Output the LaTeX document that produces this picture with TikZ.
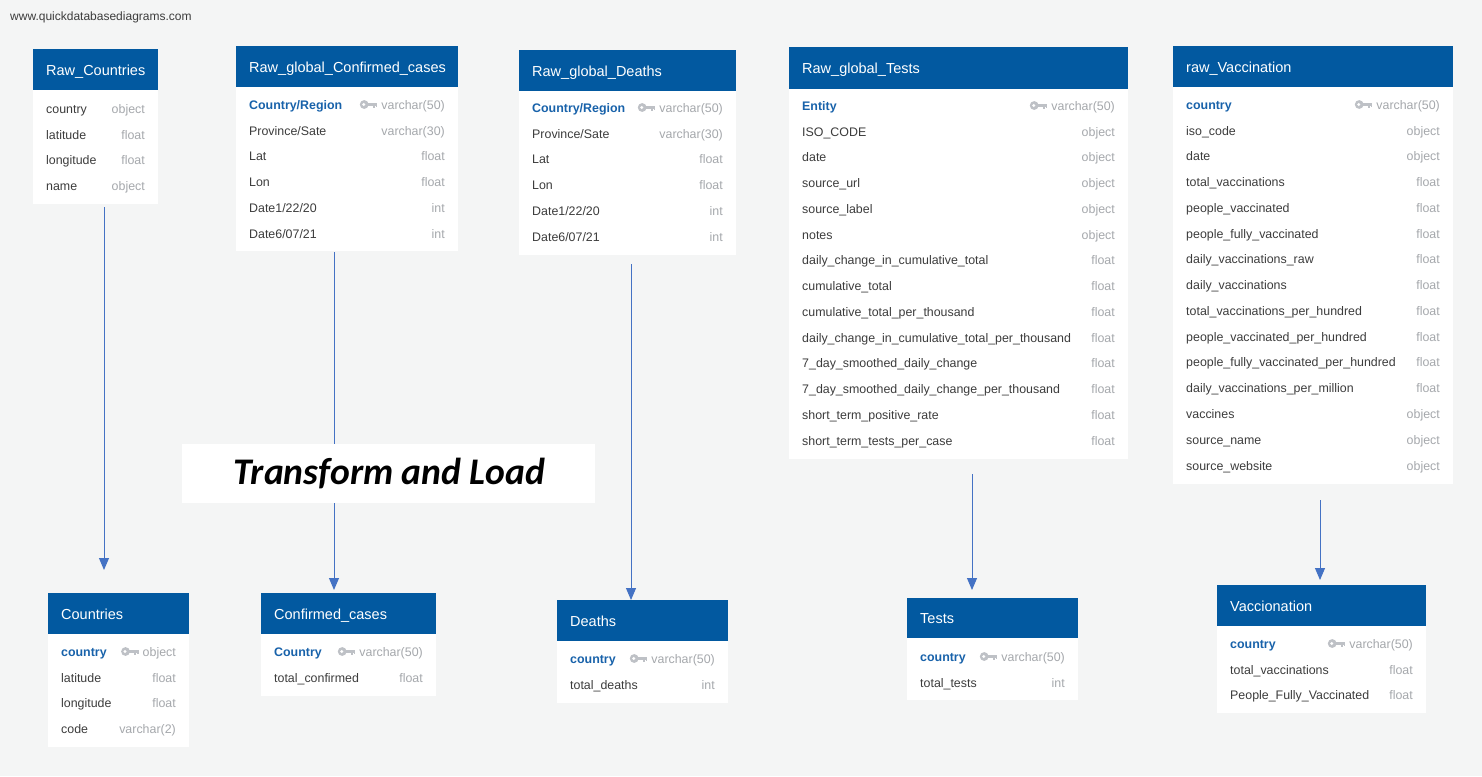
\documentclass[tikz,border=0pt]{standalone}
\usepackage{fontspec}
\setmainfont{Liberation Sans}
\newfontfamily\tlfont{Carlito}
\usetikzlibrary{arrows.meta}
\definecolor{bg}{RGB}{244,245,245}
\definecolor{hdr}{RGB}{2,89,160}
\definecolor{fname}{RGB}{60,60,60}
\definecolor{ftype}{RGB}{165,168,172}
\definecolor{kname}{RGB}{24,98,170}
\definecolor{keyc}{RGB}{190,193,198}
\definecolor{arr}{RGB}{68,114,196}
\newcounter{rn}
\tikzset{
  fld/.style={anchor=west, inner sep=0pt, text=fname, font=\fontsize{12.4}{14}\selectfont, text height=12pt, text depth=1.5pt},
  kfld/.style={fld, text=kname, font=\fontsize{12.4}{14}\selectfont\bfseries},
  typ/.style={anchor=east, inner sep=0pt, text=ftype, font=\fontsize{12.4}{14}\selectfont, text height=12pt, text depth=1.5pt},
  hdrtxt/.style={anchor=west, inner sep=0pt, text=white, font=\fontsize{14.5}{16}\selectfont, text height=13pt, text depth=1.5pt},
  flow/.style={draw=arr, line width=1pt, -{Triangle[length=12pt,width=10pt]}},
  keyicon/.pic={
    \fill[keyc] (0,0) circle[radius=4.4];
    \fill[white] (-0.5,0) circle[radius=1.6];
    \fill[keyc] (3,-1.6) rectangle (13,1.2);
    \fill[keyc] (8.6,1.2) rectangle (10.4,3.6);
    \fill[keyc] (11.3,1.2) rectangle (13,2.8);
  }
}
\newcommand\tbl[8]{%
  \fill[hdr] (#2,#4) rectangle (#3,#5);
  \fill[white] (#2,#5) rectangle (#3,#6);
  \node[hdrtxt] (#1) at ({#2+13},{(#4+#5)/2}) {#7};
  \pgfmathsetmacro\cx{#2+13}\pgfmathsetmacro\cxr{#3-13}\pgfmathsetmacro\ry{#8}}
\newcommand\frow[2]{\stepcounter{rn}%
  \node[fld] (f\arabic{rn}) at (\cx,\ry) {#1};
  \node[typ] (t\arabic{rn}) at (\cxr,\ry) {#2};
  \pgfmathsetmacro\ry{\ry+25.77}}
\newcommand\krow[2]{\stepcounter{rn}%
  \node[kfld] (f\arabic{rn}) at (\cx,\ry) {#1};
  \node[typ] (t\arabic{rn}) at (\cxr,\ry) {#2};
  \pic at ([xshift=-17pt,yshift=-0.5pt]t\arabic{rn}.west) {keyicon};
  \pgfmathsetmacro\ry{\ry+25.77}}
\begin{document}
\begin{tikzpicture}[x=1pt,y=-1pt]
\fill[bg] (0,0) rectangle (1482,776);
\useasboundingbox (0,0) rectangle (1482,776);
\node[anchor=west, inner sep=0pt, text=fname, font=\fontsize{12}{14}\selectfont, text height=11pt, text depth=2pt] (wm) at (10,16) {www.quickdatabasediagrams.com};

% arrows (drawn first, under boxes)
\coordinate (a1s) at (104,207); \coordinate (a1e) at (104,570);
\coordinate (a2s) at (334,252); \coordinate (a2e) at (334,590);
\coordinate (a3s) at (631,264); \coordinate (a3e) at (631,600);
\coordinate (a4s) at (972,474); \coordinate (a4e) at (972,590);
\coordinate (a5s) at (1320,500); \coordinate (a5e) at (1320,580);
\draw[flow] (a1s) -- (a1e);
\draw[flow] (a2s) -- (a2e);
\draw[flow] (a3s) -- (a3e);
\draw[flow] (a4s) -- (a4e);
\draw[flow] (a5s) -- (a5e);

% top tables
\tbl{rc}{33}{158}{49}{90}{204}{Raw\_Countries}{108}
\frow{country}{object}
\frow{latitude}{float}
\frow{longitude}{float}
\frow{name}{object}

\tbl{rcc}{236}{458}{46}{87}{251}{Raw\_global\_Confirmed\_cases}{104}
\krow{Country/Region}{varchar(50)}
\frow{Province/Sate}{varchar(30)}
\frow{Lat}{float}
\frow{Lon}{float}
\frow{Date1/22/20}{int}
\frow{Date6/07/21}{int}

\tbl{rgd}{519}{736}{50}{91}{255}{Raw\_global\_Deaths}{107}
\krow{Country/Region}{varchar(50)}
\frow{Province/Sate}{varchar(30)}
\frow{Lat}{float}
\frow{Lon}{float}
\frow{Date1/22/20}{int}
\frow{Date6/07/21}{int}

\tbl{rgt}{789}{1128}{47}{89}{459}{Raw\_global\_Tests}{105}
\krow{Entity}{varchar(50)}
\frow{ISO\_CODE}{object}
\frow{date}{object}
\frow{source\_url}{object}
\frow{source\_label}{object}
\frow{notes}{object}
\frow{daily\_change\_in\_cumulative\_total}{float}
\frow{cumulative\_total}{float}
\frow{cumulative\_total\_per\_thousand}{float}
\frow{daily\_change\_in\_cumulative\_total\_per\_thousand}{float}
\frow{7\_day\_smoothed\_daily\_change}{float}
\frow{7\_day\_smoothed\_daily\_change\_per\_thousand}{float}
\frow{short\_term\_positive\_rate}{float}
\frow{short\_term\_tests\_per\_case}{float}

\tbl{rv}{1173}{1453}{46}{87}{484}{raw\_Vaccination}{104}
\krow{country}{varchar(50)}
\frow{iso\_code}{object}
\frow{date}{object}
\frow{total\_vaccinations}{float}
\frow{people\_vaccinated}{float}
\frow{people\_fully\_vaccinated}{float}
\frow{daily\_vaccinations\_raw}{float}
\frow{daily\_vaccinations}{float}
\frow{total\_vaccinations\_per\_hundred}{float}
\frow{people\_vaccinated\_per\_hundred}{float}
\frow{people\_fully\_vaccinated\_per\_hundred}{float}
\frow{daily\_vaccinations\_per\_million}{float}
\frow{vaccines}{object}
\frow{source\_name}{object}
\frow{source\_website}{object}

% transform and load label
\fill[white] (182,444) rectangle (595,503);
\node[inner sep=0pt, font=\tlfont\fontsize{37.6}{42}\selectfont\bfseries\itshape] (tl) at (389.5,473.5) {Transform and Load};

% bottom tables
\tbl{co}{48}{189}{593}{634}{747}{Countries}{651}
\krow{country}{object}
\frow{latitude}{float}
\frow{longitude}{float}
\frow{code}{varchar(2)}

\tbl{cc}{261}{436}{593}{634}{696}{Confirmed\_cases}{651}
\krow{Country}{varchar(50)}
\frow{total\_confirmed}{float}

\tbl{de}{557}{728}{600}{641}{703}{Deaths}{658}
\krow{country}{varchar(50)}
\frow{total\_deaths}{int}

\tbl{te}{907}{1078}{598}{638}{700}{Tests}{656}
\krow{country}{varchar(50)}
\frow{total\_tests}{int}

\tbl{va}{1217}{1426}{585}{626}{713}{Vaccionation}{643}
\krow{country}{varchar(50)}
\frow{total\_vaccinations}{float}
\frow{People\_Fully\_Vaccinated}{float}
\end{tikzpicture}
\end{document}
